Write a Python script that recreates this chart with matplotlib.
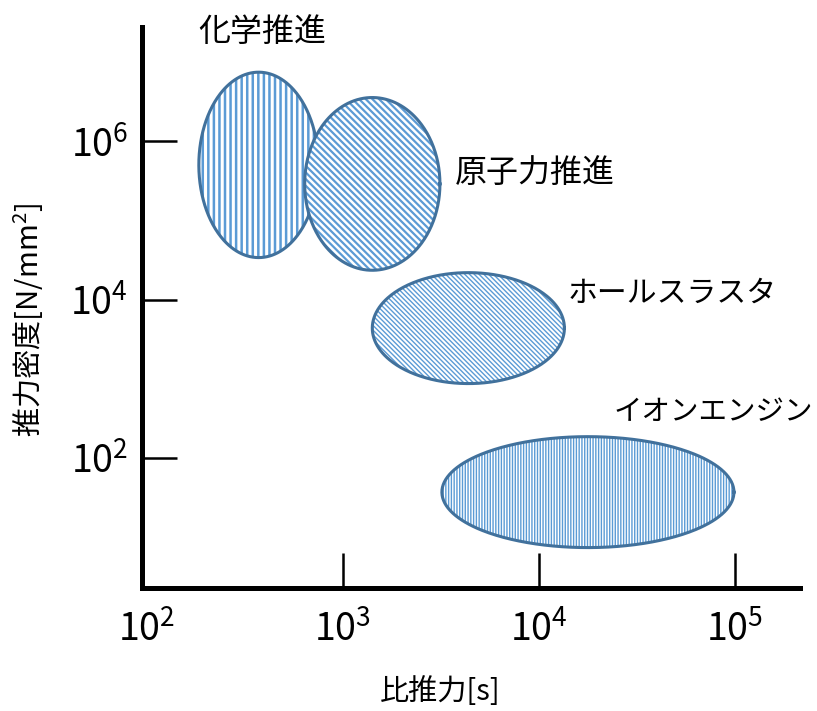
import matplotlib
matplotlib.use("Agg")
import matplotlib.pyplot as plt
import numpy as np

plt.rcParams['font.family'] = ['Noto Sans CJK JP', 'DejaVu Sans']
plt.rcParams['hatch.linewidth'] = 1.6

# ellipses: centre and full size in decades (log10 units)
names = ['化学推進', '原子力推進', 'ホールスラスタ', 'イオンエンジン']
cx = [2.57, 3.15, 3.64, 4.25]
cy = [5.70, 5.46, 3.64, 1.57]
wx = [0.61, 0.69, 0.98, 1.49]
hy = [2.34, 2.18, 1.40, 1.40]
hatches = ['|||', '\\' * 5, '\\' * 7, '|' * 6]
hatch_lw = [1.8, 1.6, 1.0, 1.0]

# label positions (log10 units) and sizes
lab_x = [2.59, 3.98, 4.68, 4.89]
lab_y = [7.38, 5.60, 4.08, 2.58]
lab_size = [23, 23, 21.5, 20.5]

xticks = [2, 3, 4, 5]
yticks = [2, 4, 6]

outline = '#41719c'
hatch_col = '#5b9bd5'

fig = plt.figure(figsize=(8.17, 7.11), dpi=100)
ax = fig.add_axes([0.1738, 0.173, 0.8054, 0.789])
ax.set_xscale('log')
ax.set_yscale('log')
ax.set_xlim(10**1.975, 10**5.332)
ax.set_ylim(10**0.36, 10**7.44)

t = np.linspace(0, 2 * np.pi, 400)
for i in range(len(names)):
    ex = 10 ** (cx[i] + wx[i] / 2 * np.cos(t))
    ey = 10 ** (cy[i] + hy[i] / 2 * np.sin(t))
    p = ax.fill(ex, ey, facecolor='white', edgecolor=hatch_col,
                hatch=hatches[i], linewidth=0, zorder=2 + i)[0]
    if hasattr(p, 'set_hatch_linewidth'):
        p.set_hatch_linewidth(hatch_lw[i])
    ax.plot(ex, ey, color=outline, linewidth=2.2, zorder=2 + i)
    ax.text(10 ** lab_x[i], 10 ** lab_y[i], names[i], fontsize=lab_size[i],
            ha='center', va='center', color='black')

for s in ['top', 'right']:
    ax.spines[s].set_visible(False)
for s in ['left', 'bottom']:
    ax.spines[s].set_linewidth(3.6)

ax.set_xticks([10 ** v for v in xticks])
ax.set_xticklabels([r'$\mathregular{10^{%d}}$' % v for v in xticks])
ax.set_yticks([10 ** v for v in yticks])
ax.set_yticklabels([r'$\mathregular{10^{%d}}$' % v for v in yticks])
ax.minorticks_off()
ax.tick_params(direction='in', length=25, width=1.8, labelsize=27)
ax.tick_params(axis='x', pad=16)
ax.tick_params(axis='y', pad=10)
# 10^2 sits at the corner: label only, no tick mark
ax.xaxis.get_major_ticks()[0].tick1line.set_visible(False)

fig.text(440 / 817, 1 - 692 / 711, '比推力[s]', fontsize=21,
         ha='center', va='center')
fig.text(29 / 817, 1 - 320 / 711, '推力密度[N/mm$\\mathregular{^2}$]',
         fontsize=21, rotation=90, ha='center', va='center')

fig.savefig('out.png', dpi=100)
